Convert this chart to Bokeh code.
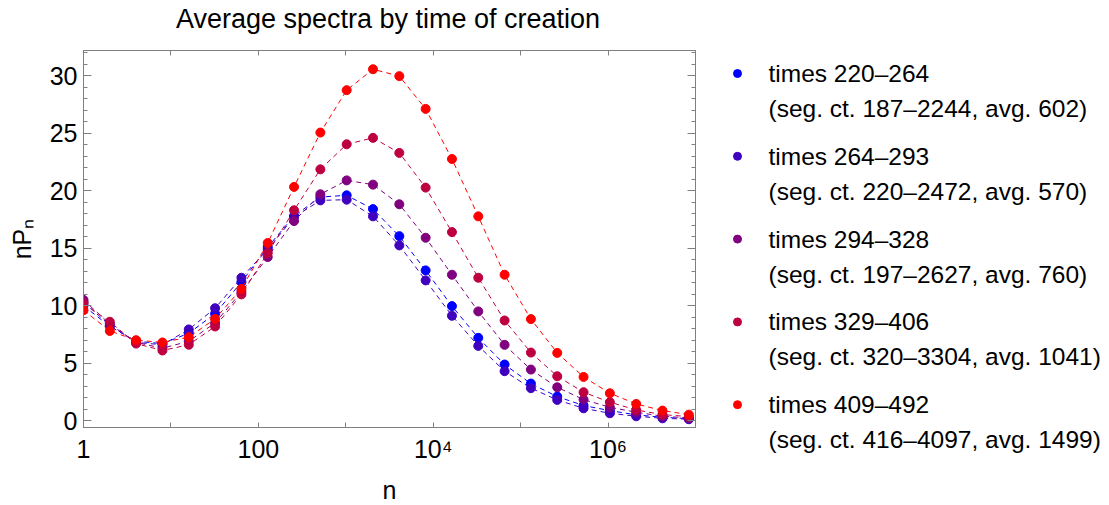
from bokeh.plotting import figure
from bokeh.models import (Range1d, FixedTicker, LogAxis, LinearAxis,
                          CustomJSTickFormatter, ColumnDataSource)
from bokeh.layouts import row, column
from bokeh.core.properties import value
from bokeh.embed import file_html
from bokeh.resources import INLINE

# ---------------- data ----------------
n_values = [1, 2, 4, 8, 16, 32, 64, 128, 256, 512, 1024, 2048, 4096, 8192,
            16384, 32768, 65536, 131072, 262144, 524288, 1048576, 2097152,
            4194304, 8388608]

times_220_264 = [10.0, 8.2, 6.9, 6.7, 7.6, 9.3, 12.05, 15.1, 17.8, 19.45, 19.6, 18.4,
                 16.05, 13.07, 9.96, 7.2, 4.88, 3.22, 2.09, 1.31, 0.87, 0.5, 0.29, 0.17]
times_264_293 = [10.3, 8.3, 6.8, 6.6, 7.93, 9.78, 12.43, 14.9, 17.7, 19.16, 19.22, 17.77,
                 15.24, 12.2, 9.12, 6.5, 4.3, 2.82, 1.8, 1.07, 0.64, 0.38, 0.2, 0.12]
times_294_328 = [10.5, 8.4, 6.8, 6.3, 6.9, 8.5, 11.2, 14.23, 17.36, 19.69, 20.9, 20.53,
                 18.82, 15.91, 12.69, 9.5, 6.59, 4.44, 2.9, 1.83, 1.16, 0.73, 0.38, 0.23]
times_329_406 = [10.2, 8.6, 6.7, 6.1, 6.6, 8.19, 10.98, 14.58, 18.3, 21.86, 24.04, 24.6,
                 23.29, 20.27, 16.4, 12.43, 8.71, 5.92, 3.86, 2.47, 1.6, 0.93, 0.52, 0.35]
times_409_492 = [9.6, 7.8, 7.0, 6.8, 7.26, 8.86, 11.47, 15.45, 20.33, 25.06, 28.75, 30.57,
                 29.97, 27.12, 22.76, 17.77, 12.69, 8.83, 5.89, 3.8, 2.38, 1.45, 0.87, 0.52]

series = [times_220_264, times_264_293, times_294_328, times_329_406, times_409_492]
colors = ["#0000FF", "#4000BF", "#800080", "#BF0040", "#FF0000"]

legend_titles = ["times 220\u2013264", "times 264\u2013293", "times 294\u2013328",
                 "times 329\u2013406", "times 409\u2013492"]
legend_notes = ["(seg. ct. 187\u20132244, avg. 602)",
                "(seg. ct. 220\u20132472, avg. 570)",
                "(seg. ct. 197\u20132627, avg. 760)",
                "(seg. ct. 320\u20133304, avg. 1041)",
                "(seg. ct. 416\u20134097, avg. 1499)"]

x_ticks = [1, 10, 100, 1000, 10000, 100000, 1000000, 10000000]
x_tick_labels = {1: "1", 10: "", 100: "100", 1000: "", 10000: "10\u2074",
                 100000: "", 1000000: "10\u2076", 10000000: ""}
y_major = [0, 5, 10, 15, 20, 25, 30]
y_minor = list(range(0, 33))

title_text = "Average spectra by time of creation"
x_label = "n"
y_label = "nP\u2099"

# ---------------- layout constants ----------------
FONT = "Liberation Sans"
FRAME = "#808080"
W, H = 1109, 505
TITLE_H = 40          # height of the title strip
XLAB_H = 40           # height of the x-label strip
PLOT_W = 705
MID_H = H - TITLE_H - XLAB_H
FRAME_TOP, FRAME_BOTTOM, FRAME_LEFT, FRAME_RIGHT = 50, 427, 83, 695


def strip(width, height, y0):
    f = figure(width=width, height=height, x_range=Range1d(0, width),
               y_range=Range1d(y0 + height, y0), output_backend="svg",
               toolbar_location=None, min_border=0,
               x_axis_location=None, y_axis_location=None)
    f.grid.visible = False
    f.outline_line_color = None
    f.background_fill_color = "white"
    f.border_fill_color = "white"
    return f


# ---------------- title strip ----------------
tf = strip(W, TITLE_H, 0)
tf.text(x=[387.5], y=[18], text=[title_text], text_align="center",
        text_baseline="middle", text_font=value(FONT), text_font_size="27px",
        text_color="black")

# ---------------- x-label strip ----------------
bf = strip(W, XLAB_H, H - XLAB_H)
bf.text(x=[(FRAME_LEFT + FRAME_RIGHT) / 2], y=[489], text=[x_label], text_align="center",
        text_baseline="middle", text_font=value(FONT), text_font_size="25px",
        text_color="black")

# ---------------- main plot ----------------
p = figure(width=PLOT_W, height=MID_H, x_axis_type="log",
           x_range=Range1d(1, 1e7), y_range=Range1d(-0.6, 32.2),
           output_backend="svg", toolbar_location=None,
           min_border_left=FRAME_LEFT, min_border_right=PLOT_W - FRAME_RIGHT,
           min_border_top=FRAME_TOP - TITLE_H,
           min_border_bottom=(H - XLAB_H) - FRAME_BOTTOM,
           x_axis_location=None, y_axis_location=None)
p.grid.visible = False
p.outline_line_color = FRAME
p.outline_line_width = 1
p.background_fill_color = "white"
p.border_fill_color = "white"

empty_fmt = CustomJSTickFormatter(code="return ''")


def style_axis(ax, tick_in, minor_in):
    ax.axis_line_color = FRAME
    ax.major_tick_line_color = FRAME
    ax.minor_tick_line_color = FRAME
    ax.major_tick_in = tick_in
    ax.major_tick_out = 0
    ax.minor_tick_in = minor_in
    ax.minor_tick_out = 0
    ax.major_label_text_font = FONT
    ax.major_label_text_font_size = "25px"
    ax.major_label_text_color = "black"
    ax.axis_label_text_font = FONT
    ax.axis_label_text_font_style = "normal"
    ax.axis_label_text_font_size = "25px"
    ax.axis_label_text_color = "black"


# bottom axis
xb = LogAxis(ticker=FixedTicker(ticks=x_ticks, minor_ticks=[]),
             major_label_overrides=x_tick_labels)
style_axis(xb, 5, 0)
xb.major_label_standoff = 7
p.add_layout(xb, "below")

# top axis (ticks only)
xt = LogAxis(ticker=FixedTicker(ticks=x_ticks, minor_ticks=[]), formatter=empty_fmt)
style_axis(xt, 5, 0)
xt.major_label_standoff = 0
p.add_layout(xt, "above")

# left axis
yl = LinearAxis(ticker=FixedTicker(ticks=y_major, minor_ticks=y_minor),
                axis_label=y_label)
style_axis(yl, 8, 4)
yl.major_label_standoff = 6
yl.axis_label_standoff = 11
p.add_layout(yl, "left")

# right axis (ticks only)
yr = LinearAxis(ticker=FixedTicker(ticks=y_major, minor_ticks=y_minor),
                formatter=empty_fmt)
style_axis(yr, 8, 4)
yr.major_label_standoff = 0
p.add_layout(yr, "right")

for vals, col in zip(series, colors):
    src = ColumnDataSource(dict(n=n_values, v=vals))
    p.line("n", "v", source=src, line_color=col, line_width=1, line_dash="5 4")
    p.scatter("n", "v", source=src, size=9, fill_color=col, line_color=col)

# ---------------- legend panel ----------------
q = strip(W - PLOT_W, MID_H, TITLE_H)

leg_y0, leg_step, line_gap = 73, 82.8, 35
ys_first = [leg_y0 + i * leg_step for i in range(len(legend_titles))]
ys_second = [y + line_gap for y in ys_first]
q.scatter(x=[32] * len(colors), y=ys_first, size=8, fill_color=colors, line_color=colors)
q.text(x=[63] * len(legend_titles), y=ys_first, text=legend_titles,
       text_baseline="middle", text_font=value(FONT), text_font_size="24.5px",
       text_color="black")
q.text(x=[63] * len(legend_notes), y=ys_second, text=legend_notes,
       text_baseline="middle", text_font=value(FONT), text_font_size="24.5px",
       text_color="black")

layout = column(tf, row(p, column(q)), bf)
open("out.html", "w").write(file_html(layout, INLINE))
